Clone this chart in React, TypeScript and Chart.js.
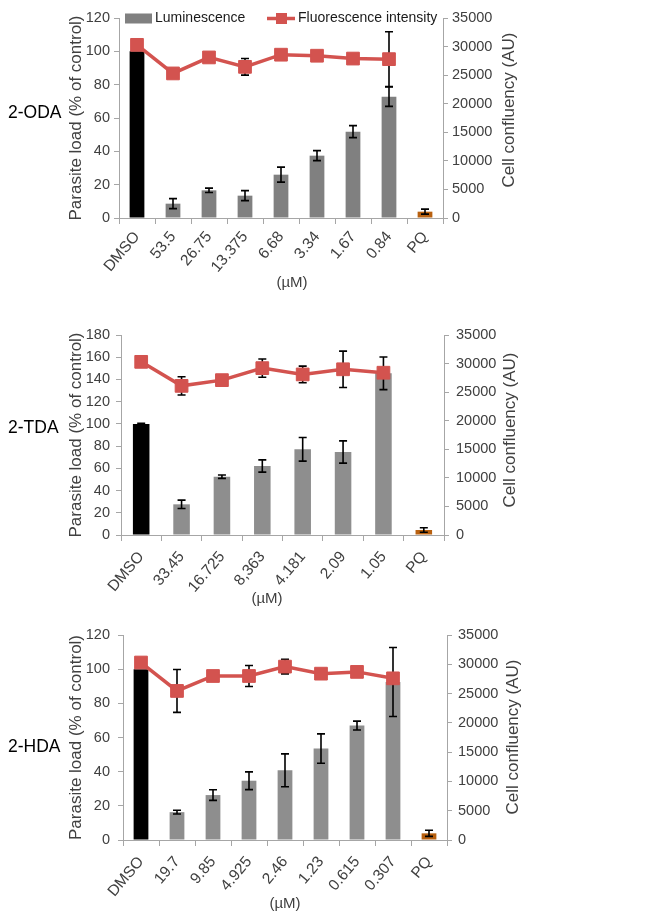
import React, { useEffect, useRef } from 'react';
import { Chart, registerables } from 'chart.js';

Chart.register(...registerables);

const FONT = "'Liberation Sans', Arial, Helvetica, sans-serif";
const TEXT = '#404040';
const AXIS = '#a6a6a6';
const RED = '#d3534f';
const PQ_COLOR = '#b8600f';

// ---- Panel 1: 2-ODA ----
const labelsODA = ['DMSO', '53.5', '26.75', '13.375', '6.68', '3.34', '1.67', '0.84', 'PQ'];
const lumODA = [100, 8.6, 16.6, 13.4, 26, 37.4, 51.8, 72.8, 3.8];
const lumErrODA = [0, 3, 1.3, 3, 4.5, 3, 3.6, 5.8, 1.5];
const fluODA = [30300, 25300, 28100, 26450, 28580, 28400, 27900, 27800, null];
const fluErrODA = [0, 0, 0, 1450, 0, 0, 0, 4800, 0];

// ---- Panel 2: 2-TDA ----
const labelsTDA = ['DMSO', '33.45', '16.725', '8,363', '4.181', '2.09', '1.05', 'PQ'];
const lumTDA = [100, 27.6, 52.5, 62.1, 77.1, 74.7, 145.5, 4.5];
const lumErrTDA = [0.6, 3.8, 1.5, 5.5, 10.6, 10, 14.7, 2];
const fluTDA = [30300, 26100, 27100, 29200, 28100, 29000, 28400, null];
const fluErrTDA = [0, 1600, 0, 1600, 1460, 3180, 0, 0];

// ---- Panel 3: 2-HDA ----
const labelsHDA = ['DMSO', '19.7', '9.85', '4.925', '2.46', '1.23', '0.615', '0.307', 'PQ'];
const lumHDA = [100, 16.3, 26.3, 34.7, 40.8, 53.5, 67, 92.5, 3.9];
const lumErrHDA = [0, 1.1, 3.1, 5.2, 9.6, 8.6, 2.6, 20.2, 1.8];
const fluHDA = [30300, 25450, 28000, 28000, 29600, 28400, 28700, 27600, null];
const fluErrHDA = [0, 3660, 0, 1800, 1230, 0, 0, 0, 0];

const leftTicksODA = { max: 120, step: 20 };
const leftTicksTDA = { max: 180, step: 20 };
const leftTicksHDA = { max: 120, step: 20 };
const rightTicks = { max: 35000, step: 5000 };

type PanelCfg = {
  name: string;
  labels: string[];
  lum: number[];
  lumErr: number[];
  flu: (number | null)[];
  fluErr: number[];
  left: { max: number; step: number };
  gray: string;
  top: number;
  h: number;
  leftW: number;
  padRight: number;
  padTop: number;
  xH: number;
  xPad: number;
  yPad: number;
  y1Pad: number;
  nameY: number;
  rTitle: [number, number];
  xTitle: [number, number];
  legend: boolean;
};

const panels: PanelCfg[] = [
  {
    name: '2-ODA', labels: labelsODA, lum: lumODA, lumErr: lumErrODA, flu: fluODA, fluErr: fluErrODA,
    left: leftTicksODA, gray: '#808080', top: 0, h: 300, leftW: 59, padRight: 149, padTop: 18, xH: 82,
    xPad: 4, yPad: 4, y1Pad: 4, nameY: 113, rTitle: [509, 110], xTitle: [292, 283], legend: true,
  },
  {
    name: '2-TDA', labels: labelsTDA, lum: lumTDA, lumErr: lumErrTDA, flu: fluTDA, fluErr: fluErrTDA,
    left: leftTicksTDA, gray: '#8e8e8e', top: 300, h: 315, leftW: 61, padRight: 148, padTop: 35, xH: 80,
    xPad: 7, yPad: 6, y1Pad: 7, nameY: 128, rTitle: [510, 130], xTitle: [267, 299], legend: false,
  },
  {
    name: '2-HDA', labels: labelsHDA, lum: lumHDA, lumErr: lumErrHDA, flu: fluHDA, fluErr: fluErrHDA,
    left: leftTicksHDA, gray: '#8e8e8e', top: 615, h: 300, leftW: 63, padRight: 145, padTop: 20, xH: 75,
    xPad: 7, yPad: 8, y1Pad: 6, nameY: 132, rTitle: [513, 122], xTitle: [285, 289], legend: false,
  },
];

function drawErr(ctx: CanvasRenderingContext2D, x: number, yHi: number, yLo: number) {
  const cap = 4;
  ctx.beginPath();
  ctx.moveTo(x, yHi);
  ctx.lineTo(x, yLo);
  ctx.moveTo(x - cap, yHi);
  ctx.lineTo(x + cap, yHi);
  ctx.moveTo(x - cap, yLo);
  ctx.lineTo(x + cap, yLo);
  ctx.stroke();
}

function PanelChart({ p }: { p: PanelCfg }) {
  const ref = useRef<HTMLCanvasElement>(null);
  useEffect(() => {
    const canvas = ref.current;
    if (!canvas) return;

    const errPlugin = {
      id: 'errBars',
      afterDatasetDraw(chart: any, args: any) {
        if (args.meta.type !== 'bar') return;
        const ctx = chart.ctx as CanvasRenderingContext2D;
        const ys = chart.scales.y;
        const y1s = chart.scales.y1;
        ctx.save();
        ctx.strokeStyle = '#000';
        ctx.lineWidth = 1.6;
        const barMeta = chart.getDatasetMeta(0);
        p.lum.forEach((v, i) => {
          const e = p.lumErr[i];
          if (!e) return;
          const x = barMeta.data[i].x;
          drawErr(ctx, x, ys.getPixelForValue(v + e), ys.getPixelForValue(Math.max(0, v - e)));
        });
        const lineMeta = chart.getDatasetMeta(1);
        p.flu.forEach((v, i) => {
          const e = p.fluErr[i];
          if (!e || v == null) return;
          const x = lineMeta.data[i].x;
          drawErr(ctx, x, y1s.getPixelForValue(v + e), y1s.getPixelForValue(v - e));
        });
        ctx.restore();
      },
    };

    const textPlugin = {
      id: 'texts',
      afterDraw(chart: any) {
        const ctx = chart.ctx as CanvasRenderingContext2D;
        ctx.save();
        // panel name
        ctx.fillStyle = '#000';
        ctx.font = `17.5px ${FONT}`;
        ctx.textAlign = 'left';
        ctx.textBaseline = 'middle';
        ctx.fillText(p.name, 8, p.nameY);
        // right axis title
        ctx.fillStyle = TEXT;
        ctx.font = `17px ${FONT}`;
        ctx.save();
        ctx.translate(p.rTitle[0], p.rTitle[1]);
        ctx.rotate(-Math.PI / 2);
        ctx.textAlign = 'center';
        ctx.textBaseline = 'middle';
        ctx.fillText('Cell confluency (AU)', 0, 0);
        ctx.restore();
        // x title
        ctx.font = `15px ${FONT}`;
        ctx.textAlign = 'center';
        ctx.textBaseline = 'middle';
        ctx.fillText('(µM)', p.xTitle[0], p.xTitle[1]);
        // legend
        if (p.legend) {
          const ly = 18.5;
          ctx.fillStyle = p.gray;
          ctx.fillRect(125, ly - 5, 27, 10);
          ctx.fillStyle = '#1a1a1a';
          ctx.font = `14px ${FONT}`;
          ctx.textAlign = 'left';
          ctx.fillText(chart.data.datasets[0].label, 155, ly);
          ctx.strokeStyle = RED;
          ctx.lineWidth = 3.5;
          ctx.beginPath();
          ctx.moveTo(267, ly);
          ctx.lineTo(295, ly);
          ctx.stroke();
          ctx.fillStyle = RED;
          ctx.fillRect(276, ly - 5.5, 11, 11);
          ctx.fillStyle = '#1a1a1a';
          ctx.fillText(chart.data.datasets[1].label, 298, ly);
        }
        ctx.restore();
      },
    };

    const tickFont = { family: FONT, size: 14.5 };
    const chart = new Chart(canvas, {
      type: 'bar',
      data: {
        labels: p.labels,
        datasets: [
          {
            type: 'bar',
            label: 'Luminescence',
            data: p.lum,
            yAxisID: 'y',
            backgroundColor: p.labels.map((l, i) => (i === 0 ? '#000000' : l === 'PQ' ? PQ_COLOR : p.gray)),
            barPercentage: 0.41,
            categoryPercentage: 1,
            order: 2,
          } as any,
          {
            type: 'line',
            label: 'Fluorescence intensity',
            data: p.flu,
            yAxisID: 'y1',
            borderColor: RED,
            backgroundColor: RED,
            borderWidth: 3.5,
            pointStyle: 'rect',
            pointRadius: 9,
            pointBackgroundColor: RED,
            pointBorderColor: RED,
            pointBorderWidth: 1,
            spanGaps: false,
            order: 1,
          } as any,
        ],
      },
      options: {
        responsive: false,
        animation: false,
        devicePixelRatio: 1,
        layout: {
          autoPadding: false,
          padding: { left: 60, right: p.padRight, top: p.padTop, bottom: 0 },
        },
        plugins: { legend: { display: false }, tooltip: { enabled: false } },
        scales: {
          x: {
            type: 'category',
            offset: true,
            grid: { offset: true, drawOnChartArea: false, drawTicks: true, tickLength: 6, color: AXIS, lineWidth: 1 },
            border: { color: AXIS, width: 1 },
            ticks: {
              autoSkip: false,
              maxRotation: 50,
              minRotation: 50,
              color: TEXT,
              font: { family: FONT, size: 15.5 },
              padding: p.xPad,
            },
            afterFit: (s: any) => {
              s.height = p.xH;
            },
          },
          y: {
            position: 'left',
            min: 0,
            max: p.left.max,
            ticks: { stepSize: p.left.step, color: TEXT, font: tickFont, padding: p.yPad, callback: (v: any) => String(v) },
            grid: { drawOnChartArea: false, drawTicks: true, tickLength: 5, color: AXIS },
            border: { color: AXIS, width: 1 },
            title: {
              display: true,
              text: 'Parasite load (% of control)',
              color: TEXT,
              font: { family: FONT, size: 17 },
              padding: { top: 6, bottom: 0 },
            },
            afterFit: (s: any) => {
              s.width = p.leftW;
            },
          },
          y1: {
            position: 'right',
            min: 0,
            max: rightTicks.max,
            ticks: { stepSize: rightTicks.step, color: TEXT, font: tickFont, padding: p.y1Pad, callback: (v: any) => String(v) },
            grid: { drawOnChartArea: false, drawTicks: true, tickLength: 5, color: AXIS },
            border: { color: AXIS, width: 1 },
            afterFit: (s: any) => {
              s.width = 60;
            },
          },
        },
      } as any,
      plugins: [errPlugin, textPlugin],
    });
    return () => chart.destroy();
  }, [p]);

  return (
    <canvas
      ref={ref}
      width={652}
      height={p.h}
      style={{ position: 'absolute', left: 0, top: p.top, width: 652, height: p.h, display: 'block' }}
    />
  );
}

export default function App() {
  return (
    <div style={{ position: 'absolute', left: 0, top: 0, width: 652, height: 915, background: '#ffffff', overflow: 'hidden' }}>
      {panels.map((p) => (
        <PanelChart key={p.name} p={p} />
      ))}
    </div>
  );
}
